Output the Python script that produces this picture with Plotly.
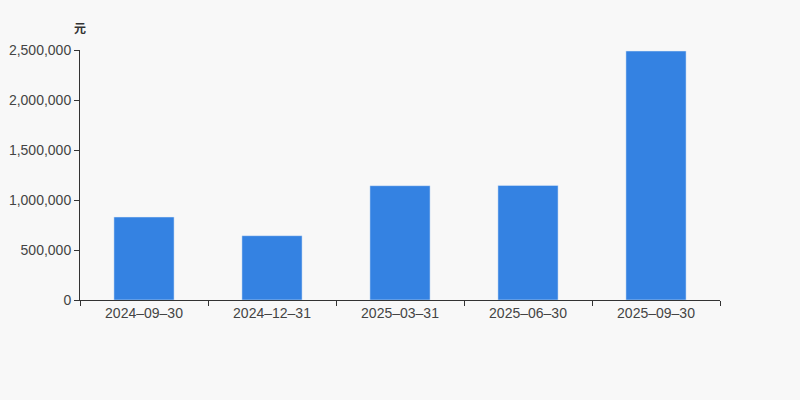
import plotly.graph_objects as go

dates = ["2024-09-30", "2024-12-31", "2025-03-31", "2025-06-30", "2025-09-30"]
amounts = [830000, 643000, 1143000, 1146000, 2490000]
y_ticks = [0, 500000, 1000000, 1500000, 2000000, 2500000]

fig = go.Figure(go.Bar(x=dates, y=amounts, marker_color="#3482e2", width=0.47))

fig.update_layout(
    width=800, height=400,
    margin=dict(l=80, r=80, t=50, b=100),
    paper_bgcolor="#f8f8f8", plot_bgcolor="#f8f8f8",
    font=dict(family="Liberation Sans, Arial, sans-serif", size=14, color="#444"),
    showlegend=False,
    annotations=[dict(text="<b>元</b>", xref="x domain", yref="y domain", x=0, y=1.09,
                      xanchor="center", yanchor="middle", showarrow=False,
                      font=dict(family="Noto Sans CJK SC", size=12, color="#333"))],
)

# the dates are drawn with a long dash in the original
fig.update_xaxes(type="category", tickvals=dates, ticktext=[d.replace("-", "\u2013") for d in dates],
                 showline=True, linecolor="#333", linewidth=1, automargin=False,
                 ticks="outside", tickson="boundaries", ticklen=5, tickcolor="#333",
                 showgrid=False)
fig.update_yaxes(range=[0, 2500000], tickvals=y_ticks, automargin=False,
                 tickformat=",", showline=True, linecolor="#333", linewidth=1,
                 ticks="outside", ticklen=5, tickcolor="#333", showgrid=False, zeroline=False)

# page without the default body margin, same grey behind
fig.write_html("out.html", config={"displayModeBar": False},
               post_script="document.body.style.margin='0';document.body.style.background='#f8f8f8';")
